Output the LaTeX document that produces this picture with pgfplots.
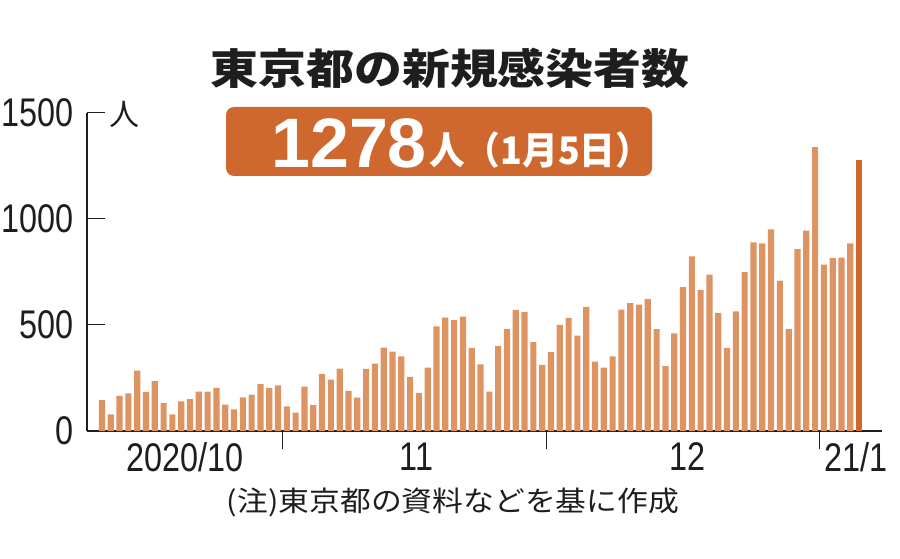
\documentclass[border=0pt]{standalone}
\usepackage{pgfplots}
\pgfplotsset{compat=1.18}
\usepackage{fontspec}
\setmainfont{Liberation Sans}
\newfontfamily\jp{Noto Sans CJK JP}
\newfontfamily\jptitle{Noto Sans CJK JP}[FakeStretch=1.14]
\newfontfamily\jpbox{Noto Sans CJK JP}[FakeStretch=0.94]
\newfontfamily\jpnote{Noto Sans CJK JP}[FakeStretch=1.1]
\newfontfamily\tickfont{Liberation Sans}[FakeStretch=0.81]

\definecolor{barc}{RGB}{221,148,98}
\definecolor{lastc}{RGB}{208,104,45}
\definecolor{boxc}{RGB}{206,104,46}
\definecolor{txt}{RGB}{30,30,30}

% daily new cases in Tokyo, index 0 = 2020-10-11
\pgfplotstableread{
i v
0 146
1 78
2 166
3 177
4 284
5 184
6 235
7 132
8 78
9 139
10 150
11 185
12 186
13 203
14 124
15 102
16 158
17 171
18 221
19 203
20 215
21 116
22 87
23 209
24 122
25 269
26 242
27 294
28 189
29 157
30 293
31 317
32 393
33 374
34 352
35 255
36 180
37 298
38 493
39 534
40 522
41 539
42 391
43 314
44 186
45 401
46 481
47 570
48 561
49 418
50 311
51 372
52 500
53 533
54 449
55 584
56 327
57 299
58 352
59 572
60 602
61 595
62 621
63 480
64 305
65 460
66 678
67 822
68 664
69 736
70 556
71 392
72 563
73 748
74 888
75 884
76 949
77 708
78 481
79 856
80 944
81 1337
82 783
83 814
84 816
85 884
}\cases
\pgfplotstableread{
i v
86 1278
}\lastday

\begin{document}
\begin{tikzpicture}[x=1pt,y=1pt]
\useasboundingbox (0,0) rectangle (900,558);
\begin{axis}[
    at={(87pt,127pt)}, anchor=south west,
    scale only axis, width=795pt, height=318.5pt,
    xmin=-1.7, xmax=88.6, ymin=0, ymax=1500,
    axis x line=bottom, axis y line=left,
    axis line style={-, line width=1.3pt, color=txt},
    every tick/.style={line width=1.3pt, color=txt},
    ytick={0,500,1000,1500}, yticklabels={0,500,1000,1500},
    ytick align=inside, major tick length=18pt,
    yticklabel style={font=\tickfont\fontsize{40}{40}\selectfont, text=txt, xshift=-10pt},
    xtick={20.5,50.5,81.5}, xticklabels={}, xtick align=outside,
    extra x ticks={9.4,35.7,66.5,85.6},
    extra x tick labels={2020/10,11,12,21/1},
    extra x tick style={major tick length=0pt, tick style={draw=none}},
    xticklabel style={font=\tickfont\fontsize{40}{40}\selectfont, text=txt, yshift=-8pt},
    clip=false,
]
\addplot[ybar, bar width=0.7, fill=barc, draw=none] table[x=i, y=v] {\cases};
\addplot[ybar, bar width=0.7, fill=lastc, draw=none] table[x=i, y=v] {\lastday};
\end{axis}
\node[text=txt, font=\jp\fontsize{30}{30}\selectfont] at (124,444) {人};
\node[text=txt, font=\jptitle\bfseries\fontsize{42}{42}\selectfont] at (450,490) {東京都の新規感染者数};
\fill[boxc, rounded corners=8pt] (226,382) rectangle (652,451);
\node[anchor=base west, inner sep=0pt, text=white, font=\bfseries\fontsize{70}{70}\selectfont] at (271,390) {1278};
\node[anchor=base west, inner sep=0pt, text=white, font=\jpbox\bfseries\fontsize{38}{38}\selectfont] at (429,393) {人（1月5日）};
\node[text=txt, font=\jpnote\fontsize{28}{28}\selectfont] at (453,56) {(注)東京都の資料などを基に作成};
\end{tikzpicture}
\end{document}
